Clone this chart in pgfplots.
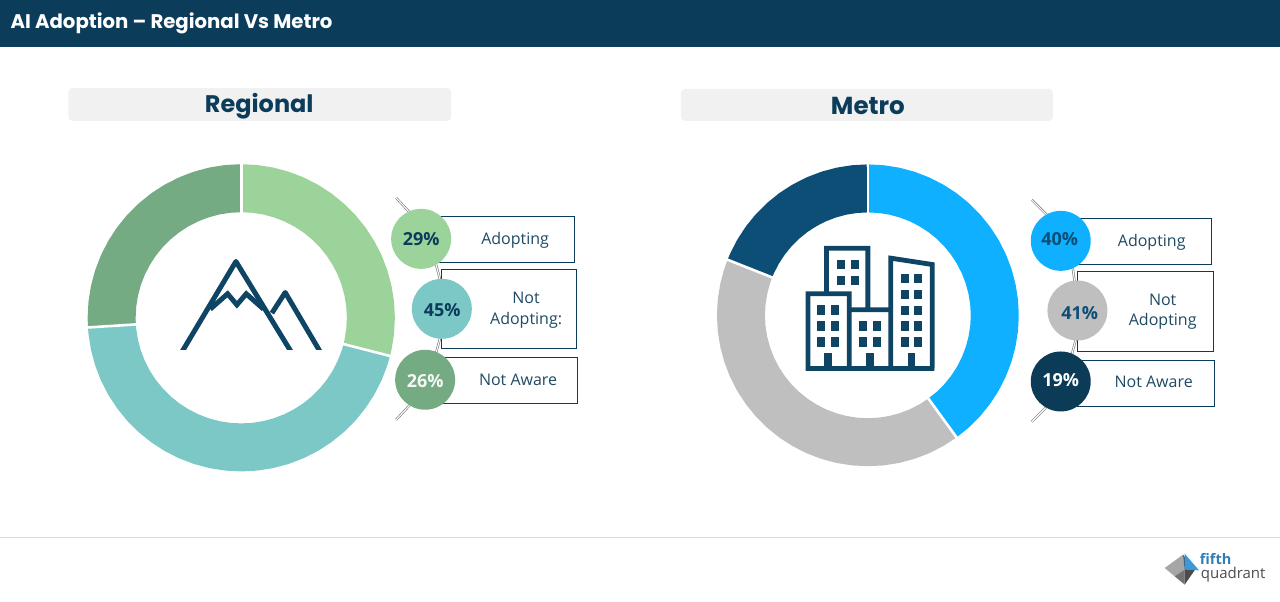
\documentclass[border=0pt]{standalone}
\usepackage{fontspec}
\usepackage{pgfplots}
\pgfplotsset{compat=1.18}
\usepgfplotslibrary{polar}
\setmainfont{Open Sans}
\newfontfamily\titlefontb{Poppins Bold}
\definecolor{head}{HTML}{0B3C5A}
\definecolor{ink}{HTML}{0E4464}
\definecolor{lab}{HTML}{1F4A63}
\definecolor{rA}{HTML}{9BD39B}
\definecolor{rB}{HTML}{7BC8C6}
\definecolor{rC}{HTML}{74AB83}
\definecolor{mA}{HTML}{0FB0FF}
\definecolor{mB}{HTML}{BFBFBF}
\definecolor{mC}{HTML}{0C4E75}
\definecolor{mC2}{HTML}{0B3B57}
\definecolor{pill}{HTML}{F1F1F1}
\pgfplotsset{donut/.style={hide axis,scale only axis,clip=false,xmin=0,xmax=360,ymin=0,anchor=center}}
\newcommand{\px}[1]{\fontsize{#1}{#1}\selectfont}
\begin{document}
\begin{tikzpicture}
\path (0pt,0pt) rectangle (1280pt,-602pt);
% Regional donut: 29 / 45 / 26 (clockwise from 12 o'clock)
\begin{polaraxis}[donut,at={(241pt,-318pt)},width=308pt,height=308pt,ymax=154]
\addplot[rA,line width=48pt,line cap=butt,line join=round] coordinates {(90,129.7)(84,129.7)(78,129.7)(72,129.7)(66,129.7)(60,129.7)(54,129.7)(48,129.7)(42,129.7)(36,129.7)(30,129.7)(24,129.7)(18,129.7)(12,129.7)(6,129.7)(0,129.7)(-6,129.7)(-12,129.7)(-14.4,129.7)};
\addplot[rB,line width=48pt,line cap=butt,line join=round] coordinates {(-14.4,129.7)(-18,129.7)(-24,129.7)(-30,129.7)(-36,129.7)(-42,129.7)(-48,129.7)(-54,129.7)(-60,129.7)(-66,129.7)(-72,129.7)(-78,129.7)(-84,129.7)(-90,129.7)(-96,129.7)(-102,129.7)(-108,129.7)(-114,129.7)(-120,129.7)(-126,129.7)(-132,129.7)(-138,129.7)(-144,129.7)(-150,129.7)(-156,129.7)(-162,129.7)(-168,129.7)(-174,129.7)(-176.4,129.7)};
\addplot[rC,line width=48pt,line cap=butt,line join=round] coordinates {(-176.4,129.7)(-180,129.7)(-186,129.7)(-192,129.7)(-198,129.7)(-204,129.7)(-210,129.7)(-216,129.7)(-222,129.7)(-228,129.7)(-234,129.7)(-240,129.7)(-246,129.7)(-252,129.7)(-258,129.7)(-264,129.7)(-270,129.7)};
\addplot[white,line width=2.6pt] coordinates {(90,105)(90,155)};
\addplot[white,line width=2.6pt] coordinates {(-14.4,105)(-14.4,155)};
\addplot[white,line width=2.6pt] coordinates {(-176.4,105)(-176.4,155)};
\end{polaraxis}
% Metro donut: 40 / 41 / 19
\begin{polaraxis}[donut,at={(868pt,-315.5pt)},width=303pt,height=303pt,ymax=151.5]
\addplot[mA,line width=48pt,line cap=butt,line join=round] coordinates {(90,127)(84,127)(78,127)(72,127)(66,127)(60,127)(54,127)(48,127)(42,127)(36,127)(30,127)(24,127)(18,127)(12,127)(6,127)(0,127)(-6,127)(-12,127)(-18,127)(-24,127)(-30,127)(-36,127)(-42,127)(-48,127)(-54,127)};
\addplot[mB,line width=48pt,line cap=butt,line join=round] coordinates {(-54,127)(-60,127)(-66,127)(-72,127)(-78,127)(-84,127)(-90,127)(-96,127)(-102,127)(-108,127)(-114,127)(-120,127)(-126,127)(-132,127)(-138,127)(-144,127)(-150,127)(-156,127)(-162,127)(-168,127)(-174,127)(-180,127)(-186,127)(-192,127)(-198,127)(-201.6,127)};
\addplot[mC,line width=48pt,line cap=butt,line join=round] coordinates {(-201.6,127)(-204,127)(-210,127)(-216,127)(-222,127)(-228,127)(-234,127)(-240,127)(-246,127)(-252,127)(-258,127)(-264,127)(-270,127)};
\addplot[white,line width=2.6pt] coordinates {(90,102)(90,152.5)};
\addplot[white,line width=2.6pt] coordinates {(-54,102)(-54,152.5)};
\addplot[white,line width=2.6pt] coordinates {(-201.6,102)(-201.6,152.5)};
\end{polaraxis}
\begin{scope}[x=1pt,y=-1pt]
% header and footer
\fill[head] (0,0) rectangle (1280,47);
\node[anchor=west,inner sep=0pt,text=white,font=\titlefontb\px{19.7}] at (10,23) {AI Adoption – Regional Vs Metro};
\draw[color=black!15,line width=.8pt] (0,537.5) -- (1280,537.5);
% pills
\fill[pill,rounded corners=4pt] (68,88) rectangle (451,121);
\fill[pill,rounded corners=4pt] (681,89) rectangle (1053,121);
\node[text=head,font=\titlefontb\px{24}] at (259,106) {Regional};
\node[text=head,font=\titlefontb\px{24.6}] at (868,106) {Metro};
% leaders
\tikzset{lead/.style={draw=black!55,double=white,double distance=1.1pt,line width=.6pt}}
\foreach \a/\b/\c/\d in {396/198/410/213,436/265/440/280,440/338/436/353,396/420/410/405,1032/200/1047/215,1073/268/1075/283,1076/340/1072/355,1032/422/1046/408}
  \draw[lead] (\a,\b) -- (\c,\d);
% boxes
\tikzset{bx/.style={draw=head,line width=.8pt,fill=white}}
\draw[bx] (438,216.5) rectangle (574.5,263);
\draw[bx] (441.5,269.5) rectangle (576.5,349);
\draw[bx] (440,357.5) rectangle (577.5,404);
\draw[bx] (1078,218.5) rectangle (1211.5,265);
\draw[bx] (1078,271.5) rectangle (1213.5,351.5);
\draw[bx] (1078,360.5) rectangle (1214.5,407);
% circles and percentages
\tikzset{pct/.style={font=\bfseries\px{18}}}
\fill[rA] (421,239) circle (30);
\fill[rB] (441.7,309) circle (30);
\fill[rC] (425,380) circle (30);
\fill[mA] (1061,241) circle (30);
\fill[mB] (1077.7,310.7) circle (30);
\fill[mC2] (1061,381.7) circle (30);
\node[pct,text=head] at (421,239) {29\%};
\node[pct,text=head] at (442,310) {45\%};
\node[pct,text=white!92!rC] at (425,381) {26\%};
\node[pct,text=mC] at (1060,239.5) {40\%};
\node[pct,text=mC] at (1080,313) {41\%};
\node[pct,text=white] at (1061,380.5) {19\%};
% labels
\tikzset{lb/.style={text=lab,font=\px{16}}}
\node[lb] at (515,240.5) {Adopting};
\node[lb] at (526,298.5) {Not};
\node[lb] at (526,320.5) {Adopting:};
\node[lb] at (518,380.5) {Not Aware};
\node[lb] at (1152,242.5) {Adopting};
\node[lb] at (1163,300.5) {Not};
\node[lb] at (1163,322) {Adopting};
\node[lb] at (1154,382.5) {Not Aware};
% mountain icon
\begin{scope}[shift={(170,250)},x=0.3333pt,y=-0.3333pt]
\clip (0,0) rectangle (480,298);
\draw[ink,line width=5pt,line join=round] (28,318) -- (197,35) -- (370,318);
\draw[ink,line width=5pt,line join=miter] (120,178) -- (172,132) -- (200,165) -- (228,132) -- (280,178);
\draw[ink,line width=5pt,line join=round] (305,190) -- (345,128) -- (457,318);
\end{scope}
% building icon
\begin{scope}[shift={(790,235)},x=0.3333pt,y=-0.3333pt]
\draw[ink,line width=4.8pt,line join=miter]
 (54,401) -- (54,177) -- (178,177) -- (178,401)
 (110,170) -- (110,40) -- (234,40) -- (234,225)
 (185,225) -- (296,225)
 (303,401) -- (303,70) -- (427,89) -- (427,401)
 (47,401) -- (434,401);
\foreach \x/\y in {82/212,124/212,82/260,124/260,82/308,124/308,140/75,182/75,140/123,182/123,207/260,249/260,207/308,249/308,332/117,374/117,332/165,374/165,332/213,374/213,332/260,374/260,332/308,374/308}
  \fill[ink] (\x,\y) rectangle ++(24,28);
\foreach \x in {103,228,353}
  \fill[ink] (\x,356) rectangle ++(24,45);
\end{scope}
% logo
\begin{scope}[shift={(1150,530)},x=0.3333pt,y=-0.3333pt]
\fill[black!35] (45,115) -- (100,75) -- (105,120) -- (75,140) -- cycle;
\fill[black!55] (75,140) -- (105,120) -- (105,165) -- cycle;
\fill[black!70] (100,75) -- (135,122) -- (105,165) -- (105,120) -- cycle;
\fill[cyan!70!blue!80] (105,72) -- (148,122) -- (105,120) -- cycle;
\end{scope}
\node[anchor=west,inner sep=0pt,text=cyan!70!blue!80!black,font=\bfseries\px{14.5}] at (1200,559) {fifth};
\node[anchor=west,inner sep=0pt,text=black!70,font=\px{15}] at (1201,575) {quadrant};
\end{scope}
\end{tikzpicture}
\end{document}
